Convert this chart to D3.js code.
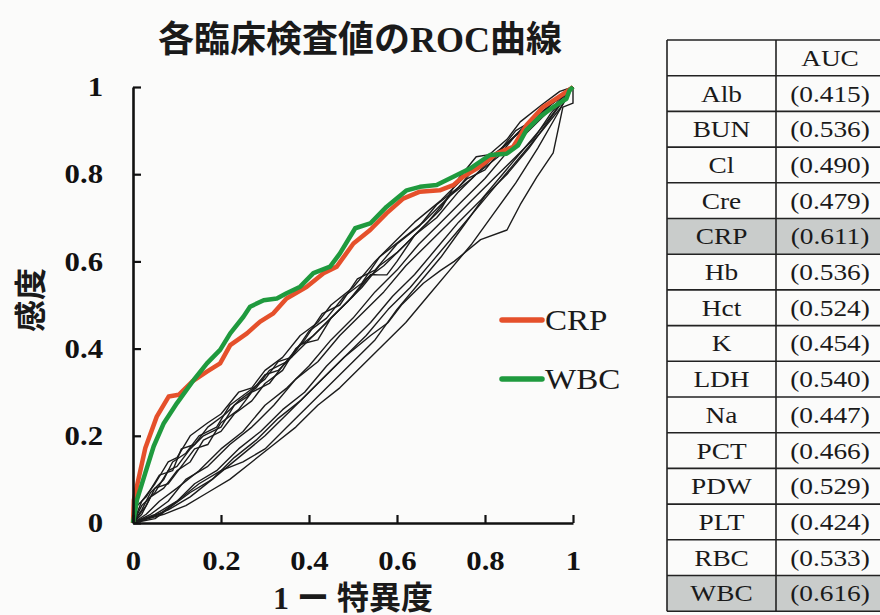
<!DOCTYPE html>
<html>
<head>
<meta charset="utf-8">
<script src="https://cdn.jsdelivr.net/npm/d3@7"></script>
<style>
  html, body { margin: 0; padding: 0; background: #fbfbfa; }
  svg { display: block; }
</style>
</head>
<body>
<div id="chart"></div>
<script>
// --- Data ---
const testNames = ["Alb", "BUN", "Cl", "Cre", "CRP", "Hb", "Hct", "K", "LDH", "Na", "PCT", "PDW", "PLT", "RBC", "WBC"];
const aucValues = ["(0.415)", "(0.536)", "(0.490)", "(0.479)", "(0.611)", "(0.536)", "(0.524)", "(0.454)", "(0.540)", "(0.447)", "(0.466)", "(0.529)", "(0.424)", "(0.533)", "(0.616)"];
const highlighted = ["CRP", "WBC"];

const xTickValues = [0, 0.2, 0.4, 0.6, 0.8, 1];
const xTickLabels = ["0", "0.2", "0.4", "0.6", "0.8", "1"];
const yTickValues = [0, 0.2, 0.4, 0.6, 0.8, 1];
const yTickLabels = ["0", "0.2", "0.4", "0.6", "0.8", "1"];

// ROC curves: [1 - specificity, sensitivity]
const rocCRP = [[0,0],[0.002,0.053],[0.028,0.172],[0.054,0.244],[0.081,0.29],[0.104,0.294],[0.134,0.324],[0.168,0.347],[0.198,0.366],[0.221,0.408],[0.259,0.435],[0.289,0.462],[0.319,0.481],[0.349,0.515],[0.395,0.542],[0.433,0.573],[0.463,0.588],[0.501,0.641],[0.539,0.672],[0.576,0.71],[0.614,0.744],[0.652,0.76],[0.697,0.763],[0.728,0.775],[0.75,0.794],[0.788,0.817],[0.826,0.847],[0.864,0.863],[0.894,0.912],[0.932,0.954],[0.955,0.969],[0.985,0.989],[1,1]];
const rocWBC = [[0,0],[0.009,0.053],[0.028,0.115],[0.047,0.176],[0.07,0.229],[0.1,0.275],[0.138,0.328],[0.168,0.366],[0.198,0.397],[0.221,0.435],[0.251,0.473],[0.266,0.496],[0.297,0.511],[0.327,0.515],[0.349,0.527],[0.38,0.542],[0.41,0.573],[0.448,0.588],[0.47,0.618],[0.505,0.676],[0.539,0.687],[0.576,0.725],[0.622,0.763],[0.652,0.771],[0.69,0.775],[0.728,0.794],[0.766,0.813],[0.811,0.844],[0.849,0.847],[0.875,0.866],[0.894,0.901],[0.924,0.931],[0.955,0.954],[0.985,0.973],[0.992,0.992],[1,1]];

const rocLDH = [[0,0],[0.02,0.05],[0.05,0.09],[0.08,0.14],[0.1,0.15],[0.13,0.2],[0.17,0.23],[0.2,0.25],[0.24,0.3],[0.27,0.31],[0.3,0.35],[0.34,0.38],[0.38,0.43],[0.42,0.46],[0.45,0.5],[0.5,0.54],[0.55,0.6],[0.6,0.65],[0.64,0.69],[0.7,0.74],[0.75,0.79],[0.8,0.83],[0.85,0.87],[0.9,0.92],[0.95,0.96],[0.98,0.98],[1,1]];
const rocBUN = [[0,0],[0.02,0.03],[0.04,0.07],[0.07,0.1],[0.09,0.14],[0.12,0.16],[0.15,0.2],[0.19,0.22],[0.22,0.27],[0.26,0.3],[0.3,0.33],[0.33,0.37],[0.36,0.38],[0.4,0.44],[0.44,0.47],[0.48,0.52],[0.52,0.55],[0.56,0.61],[0.61,0.65],[0.66,0.69],[0.71,0.74],[0.76,0.79],[0.8,0.81],[0.84,0.86],[0.88,0.9],[0.93,0.94],[0.97,0.98],[1,1]];
const rocHb = [[0,0],[0.01,0.04],[0.03,0.06],[0.06,0.11],[0.09,0.12],[0.11,0.17],[0.14,0.18],[0.17,0.22],[0.21,0.25],[0.24,0.28],[0.28,0.31],[0.31,0.35],[0.35,0.37],[0.39,0.42],[0.43,0.48],[0.47,0.5],[0.51,0.56],[0.55,0.58],[0.6,0.64],[0.65,0.68],[0.69,0.73],[0.74,0.77],[0.79,0.83],[0.83,0.85],[0.87,0.9],[0.92,0.93],[0.96,0.97],[1,1]];
const rocHct = [[0,0],[0.02,0.02],[0.04,0.06],[0.07,0.08],[0.1,0.12],[0.13,0.14],[0.16,0.19],[0.2,0.21],[0.23,0.25],[0.27,0.28],[0.3,0.32],[0.34,0.35],[0.37,0.4],[0.41,0.43],[0.45,0.47],[0.49,0.51],[0.53,0.56],[0.57,0.59],[0.62,0.64],[0.67,0.69],[0.72,0.75],[0.77,0.79],[0.82,0.84],[0.86,0.88],[0.91,0.92],[0.95,0.96],[1,1]];
const rocPDW = [[0,0],[0.03,0.04],[0.05,0.08],[0.08,0.09],[0.11,0.13],[0.14,0.17],[0.17,0.18],[0.2,0.23],[0.24,0.26],[0.27,0.3],[0.31,0.32],[0.34,0.36],[0.38,0.41],[0.42,0.42],[0.45,0.47],[0.5,0.52],[0.54,0.57],[0.557,0.569],[0.577,0.569],[0.6,0.6],[0.64,0.66],[0.69,0.7],[0.74,0.76],[0.78,0.8],[0.83,0.84],[0.87,0.89],[0.92,0.93],[0.96,0.97],[1,1]];
const rocRBC = [[0,0],[0.02,0.04],[0.05,0.07],[0.08,0.12],[0.1,0.13],[0.13,0.17],[0.16,0.2],[0.2,0.22],[0.23,0.27],[0.26,0.29],[0.3,0.34],[0.33,0.35],[0.37,0.39],[0.4,0.42],[0.44,0.46],[0.48,0.5],[0.52,0.54],[0.56,0.59],[0.6,0.62],[0.65,0.67],[0.7,0.72],[0.74,0.79],[0.78,0.84],[0.81,0.845],[0.85,0.88],[0.88,0.92],[0.93,0.96],[0.97,0.99],[1,1]];
const rocCl = [[0,0],[0.03,0.02],[0.06,0.05],[0.1,0.08],[0.15,0.12],[0.2,0.17],[0.25,0.21],[0.3,0.27],[0.35,0.31],[0.4,0.36],[0.45,0.42],[0.5,0.47],[0.55,0.53],[0.6,0.58],[0.65,0.64],[0.7,0.69],[0.75,0.74],[0.8,0.79],[0.85,0.85],[0.9,0.9],[0.95,0.95],[1,1]];
const rocCre = [[0,0],[0.04,0.02],[0.08,0.05],[0.12,0.1],[0.17,0.13],[0.22,0.18],[0.27,0.22],[0.32,0.27],[0.37,0.33],[0.42,0.37],[0.47,0.43],[0.52,0.48],[0.57,0.53],[0.62,0.59],[0.67,0.64],[0.72,0.69],[0.77,0.74],[0.82,0.79],[0.87,0.84],[0.91,0.88],[0.95,0.94],[1,1]];
const rocPCT = [[0,0],[0.05,0.02],[0.1,0.05],[0.14,0.09],[0.19,0.12],[0.24,0.17],[0.29,0.21],[0.34,0.26],[0.39,0.3],[0.44,0.36],[0.49,0.41],[0.54,0.46],[0.59,0.52],[0.64,0.57],[0.69,0.63],[0.74,0.69],[0.79,0.74],[0.84,0.8],[0.89,0.86],[0.94,0.92],[1,1]];
const rocK = [[0,0],[0.05,0.01],[0.09,0.04],[0.13,0.07],[0.18,0.1],[0.23,0.15],[0.28,0.19],[0.33,0.24],[0.38,0.28],[0.43,0.33],[0.48,0.38],[0.53,0.43],[0.58,0.49],[0.63,0.54],[0.68,0.6],[0.73,0.66],[0.78,0.72],[0.83,0.78],[0.88,0.84],[0.93,0.9],[0.97,0.95],[1,1]];
const rocNa = [[0,0],[0.06,0.02],[0.1,0.05],[0.15,0.09],[0.2,0.12],[0.25,0.14],[0.3,0.17],[0.35,0.22],[0.4,0.27],[0.45,0.32],[0.5,0.37],[0.55,0.42],[0.6,0.49],[0.65,0.55],[0.7,0.61],[0.75,0.68],[0.8,0.75],[0.85,0.8],[0.9,0.86],[0.95,0.93],[1,1]];
const rocPLT = [[0,0],[0.07,0.02],[0.12,0.04],[0.17,0.07],[0.22,0.1],[0.27,0.14],[0.32,0.18],[0.37,0.22],[0.42,0.27],[0.47,0.31],[0.52,0.36],[0.57,0.41],[0.62,0.46],[0.67,0.52],[0.72,0.58],[0.77,0.64],[0.82,0.71],[0.87,0.78],[0.92,0.86],[0.96,0.93],[1,1]];
const rocAlb = [[0,0],[0.03,0.01],[0.08,0.03],[0.13,0.06],[0.18,0.1],[0.24,0.15],[0.3,0.2],[0.36,0.26],[0.42,0.32],[0.48,0.38],[0.54,0.43],[0.58,0.46],[0.61,0.5],[0.66,0.55],[0.7,0.58],[0.73,0.6],[0.76,0.625],[0.79,0.65],[0.85,0.672],[0.88,0.73],[0.918,0.794],[0.955,0.849],[0.977,0.954],[1,0.963],[1,1]];

const otherCurves = [rocAlb, rocBUN, rocCl, rocCre, rocHb, rocHct, rocK, rocLDH, rocNa, rocPCT, rocPDW, rocPLT, rocRBC];

const serif = "'Liberation Serif', 'Times New Roman', serif";
const cjk = "'Liberation Serif', 'Noto Sans CJK JP', sans-serif";
const SX = 1.14; // the scanned text is a bit wider than plain Times

const W = 880, H = 615;
const svg = d3.select("#chart").append("svg")
  .attr("width", W)
  .attr("height", H);

svg.append("rect").attr("width", W).attr("height", H).attr("fill", "#fbfbfa");

// --- Scales ---
const x = d3.scaleLinear().domain([0, 1]).range([133, 573]);
const y = d3.scaleLinear().domain([0, 1]).range([523, 87]);

// --- Title ---
svg.append("text")
  .attr("x", 360)
  .attr("y", 52)
  .attr("text-anchor", "middle")
  .attr("font-family", cjk)
  .attr("font-weight", "bold")
  .attr("font-size", 36)
  .attr("fill", "#1a1a1a")
  .text("各臨床検査値のROC曲線");

// --- Curves ---
const line = d3.line().x(d => x(d[0])).y(d => y(d[1]));

svg.append("g").selectAll("path")
  .data(otherCurves)
  .join("path")
  .attr("d", line)
  .attr("fill", "none")
  .attr("stroke", "#1c1c1c")
  .attr("stroke-width", 1.4)
  .attr("stroke-linejoin", "round");

svg.append("path")
  .attr("d", line(rocCRP))
  .attr("fill", "none")
  .attr("stroke", "#e5502b")
  .attr("stroke-width", 4.5)
  .attr("stroke-linejoin", "round");

svg.append("path")
  .attr("d", line(rocWBC))
  .attr("fill", "none")
  .attr("stroke", "#1f9a3e")
  .attr("stroke-width", 4.5)
  .attr("stroke-linejoin", "round");

// --- Axes (ticks point inward) ---
const xAxisG = svg.append("g")
  .attr("transform", `translate(0,${y(0)})`)
  .call(d3.axisBottom(x)
    .tickValues(xTickValues)
    .tickFormat((d, i) => xTickLabels[i])
    .tickSizeInner(-8)
    .tickSizeOuter(0)
    .tickPadding(28));

const yAxisG = svg.append("g")
  .attr("transform", `translate(${x(0)},0)`)
  .call(d3.axisLeft(y)
    .tickValues(yTickValues)
    .tickFormat((d, i) => yTickLabels[i])
    .tickSizeInner(-8)
    .tickSizeOuter(0));

[xAxisG, yAxisG].forEach(g => {
  g.select(".domain").attr("stroke", "#111").attr("stroke-width", 2.6);
  g.selectAll(".tick line").attr("stroke", "#111").attr("stroke-width", 2.2);
  g.selectAll(".tick text")
    .attr("font-family", serif)
    .attr("font-weight", "bold")
    .attr("font-size", 27)
    .attr("fill", "#111");
});

xAxisG.selectAll(".tick text").attr("transform", `scale(${SX},1)`);
yAxisG.selectAll(".tick text")
  .attr("x", -30 / SX)
  .attr("transform", `scale(${SX},1)`);

// axis titles
svg.append("text")
  .attr("x", 353)
  .attr("y", 609)
  .attr("text-anchor", "middle")
  .attr("font-family", cjk)
  .attr("font-weight", "bold")
  .attr("font-size", 32)
  .attr("fill", "#1a1a1a")
  .text("1 ー 特異度");

svg.append("text")
  .attr("transform", "translate(42,300) rotate(-90)")
  .attr("text-anchor", "middle")
  .attr("font-family", cjk)
  .attr("font-weight", "bold")
  .attr("font-size", 32)
  .attr("fill", "#1a1a1a")
  .text("感度");

// --- Legend ---
const legendItems = [
  { name: "CRP", color: "#e5502b", yPos: 320 },
  { name: "WBC", color: "#1f9a3e", yPos: 379 }
];
const legend = svg.append("g").selectAll("g")
  .data(legendItems)
  .join("g")
  .attr("transform", d => `translate(0,${d.yPos})`);

legend.append("line")
  .attr("x1", 502).attr("x2", 542)
  .attr("stroke", d => d.color)
  .attr("stroke-width", 5.5)
  .attr("stroke-linecap", "round");

legend.append("text")
  .attr("transform", `translate(545,10) scale(${SX},1)`)
  .attr("font-family", serif)
  .attr("font-size", 29)
  .attr("fill", "#1a1a1a")
  .text(d => d.name);

// --- AUC table ---
const colEdges = [667, 776, 884];
const rowTop = 40, rowH = 35.7;
const tableRows = [{ name: "", auc: "AUC" }].concat(testNames.map((n, i) => ({ name: n, auc: aucValues[i] })));

const table = svg.append("g");

table.selectAll("rect.cell-bg")
  .data(tableRows)
  .join("rect")
  .attr("class", "cell-bg")
  .attr("x", colEdges[0])
  .attr("y", (d, i) => rowTop + i * rowH)
  .attr("width", colEdges[2] - colEdges[0])
  .attr("height", rowH)
  .attr("fill", d => highlighted.includes(d.name) ? "#c9cccb" : "#fbfbfa");

// horizontal rules
table.selectAll("line.hr")
  .data(d3.range(tableRows.length + 1))
  .join("line")
  .attr("class", "hr")
  .attr("x1", colEdges[0]).attr("x2", colEdges[2])
  .attr("y1", i => rowTop + i * rowH)
  .attr("y2", i => rowTop + i * rowH)
  .attr("stroke", "#222")
  .attr("stroke-width", 1.6);

// vertical rules
table.selectAll("line.vr")
  .data(colEdges)
  .join("line")
  .attr("class", "vr")
  .attr("x1", d => d).attr("x2", d => d)
  .attr("y1", rowTop)
  .attr("y2", rowTop + tableRows.length * rowH)
  .attr("stroke", "#222")
  .attr("stroke-width", 1.6);

const colCenters = [(colEdges[0] + colEdges[1]) / 2, (colEdges[1] + colEdges[2]) / 2];

["name", "auc"].forEach((key, c) => {
  table.selectAll(`text.${key}`)
    .data(tableRows)
    .join("text")
    .attr("class", key)
    .attr("transform", (d, i) => `translate(${colCenters[c]},${rowTop + i * rowH + rowH / 2 + 8}) scale(${SX},1)`)
    .attr("text-anchor", "middle")
    .attr("font-family", serif)
    .attr("font-size", 24)
    .attr("fill", "#1a1a1a")
    .text(d => d[key]);
});
</script>
</body>
</html>
